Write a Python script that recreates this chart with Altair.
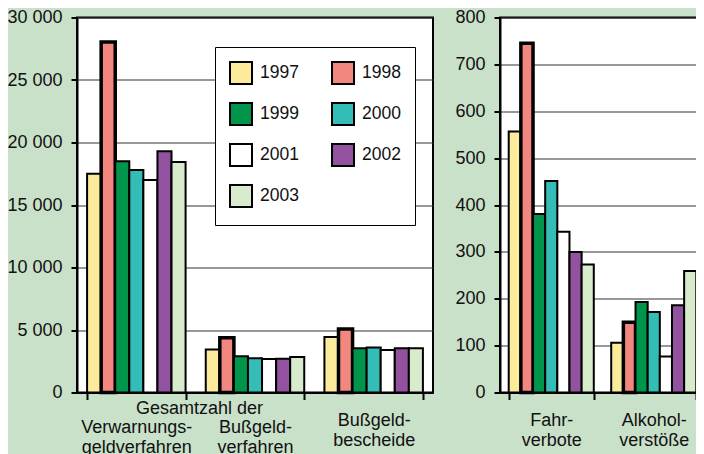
import altair as alt
import pandas as pd

# ---------------- data ----------------
years = ["1997", "1998", "1999", "2000", "2001", "2002", "2003"]
colors = ["#fbeb9b", "#f2877f", "#00954a", "#34bdb6", "#ffffff", "#9352a0", "#d9ebcd"]

left_categories = ["Verwarnungsgeldverfahren", "Bußgeldverfahren", "Bußgeldbescheide"]
left_labels = [["Verwarnungs-", "geldverfahren"], ["Bußgeld-", "verfahren"], ["Bußgeld-", "bescheide"]]
left_header = "Gesamtzahl der"
verwarnungsgeldverfahren = [17500, 28050, 18500, 17800, 17000, 19300, 18450]
bussgeldverfahren = [3450, 4380, 2900, 2750, 2680, 2700, 2850]
bussgeldbescheide = [4450, 5080, 3550, 3600, 3400, 3540, 3550]

right_categories = ["Fahrverbote", "Alkoholverstöße"]
right_labels = [["Fahr-", "verbote"], ["Alkohol-", "verstöße"]]
fahrverbote = [557, 745, 381, 451, 343, 300, 273]
alkoholverstoesse = [106, 150, 193, 172, 77, 186, 259]

left_ticks = [0, 5000, 10000, 15000, 20000, 25000, 30000]
right_ticks = [0, 100, 200, 300, 400, 500, 600, 700, 800]

df_left = pd.DataFrame(
    [{"category": c, "year": y, "value": v}
     for c, vals in zip(left_categories, [verwarnungsgeldverfahren, bussgeldverfahren, bussgeldbescheide])
     for y, v in zip(years, vals)]
)
df_right = pd.DataFrame(
    [{"category": c, "year": y, "value": v}
     for c, vals in zip(right_categories, [fahrverbote, alkoholverstoesse])
     for y, v in zip(years, vals)]
)


def label_expr(cats, labels):
    expr = "datum.label"
    for c, l in reversed(list(zip(cats, labels))):
        arr = "[" + ", ".join("'" + s + "'" for s in l) + "]"
        expr = f"datum.label == '{c}' ? {arr} : ({expr})"
    return expr


FONT = "Liberation Sans"
TXT = "#111111"
LOW = f"datum.value == '{left_categories[0]}' || datum.value == '{left_categories[1]}'"

stroke_w = alt.condition("datum.year == '1998'", alt.value(3.5), alt.value(2))

left = alt.Chart(df_left).mark_bar(stroke="black").encode(
    x=alt.X("category:N", sort=left_categories,
            scale=alt.Scale(paddingInner=0.17, paddingOuter=0.085),
            axis=alt.Axis(labelExpr=label_expr(left_categories, left_labels), labelAngle=0,
                          labelBaseline="top", labelLineHeight=19.5, tickSize=7, tickBand="extent",
                          labelPadding=alt.condition(LOW, alt.value(19), alt.value(12)),
                          grid=False, title=left_header, titleX=122, titleY=21,
                          titleAlign="center", titleBaseline="alphabetic", titleFont=FONT,
                          titleFontSize=18, titleFontWeight="normal", titleColor=TXT)),
    xOffset=alt.XOffset("year:N", sort=years, scale=alt.Scale(paddingInner=0, paddingOuter=0)),
    y=alt.Y("value:Q", scale=alt.Scale(domain=[0, 30000], nice=False),
            axis=alt.Axis(title=None, values=left_ticks,
                          labelExpr="replace(format(datum.value, ','), ',', ' ')")),
    fill=alt.Fill("year:N", sort=years, scale=alt.Scale(domain=years, range=colors),
                  legend=alt.Legend(title=None, orient="none", legendX=138, legendY=29.5, columns=2,
                                    direction="horizontal",
                                    symbolType="square", symbolSize=484, symbolStrokeColor="black",
                                    symbolStrokeWidth=2, labelFont=FONT, labelFontSize=17.5,
                                    labelColor=TXT, labelBaseline="middle", labelOffset=7,
                                    columnPadding=29, rowPadding=11, padding=14,
                                    fillColor="white", strokeColor="black")),
    strokeWidth=stroke_w,
).properties(width=356, height=375)

right = alt.Chart(df_right).mark_bar(stroke="black").encode(
    x=alt.X("category:N", sort=right_categories,
            scale=alt.Scale(paddingInner=0.17, paddingOuter=0.085),
            axis=alt.Axis(labelExpr=label_expr(right_categories, right_labels), labelAngle=0,
                          labelBaseline="top", labelLineHeight=19.5, tickSize=7, tickBand="extent",
                          labelPadding=12, grid=False, title=None)),
    xOffset=alt.XOffset("year:N", sort=years, scale=alt.Scale(paddingInner=0, paddingOuter=0)),
    y=alt.Y("value:Q", scale=alt.Scale(domain=[0, 800], nice=False),
            axis=alt.Axis(title=None, values=right_ticks)),
    fill=alt.Fill("year:N", sort=years, scale=alt.Scale(domain=years, range=colors), legend=None),
    strokeWidth=stroke_w,
).properties(width=205, height=375)

chart = alt.hconcat(left, right, spacing=19).resolve_scale(
    x="independent", y="independent", xOffset="independent", fill="independent"
).resolve_legend(fill="independent").properties(
    autosize=alt.AutoSizeParams(type="none"),
    padding={"left": 69, "top": 9.5, "right": 619, "bottom": 428.5},
    background="#c9e0c9",
).configure_view(
    fill="white", stroke="black", strokeWidth=2
).configure_axis(
    labelFont=FONT, labelFontSize=18, labelColor=TXT,
    domainColor="black", domainWidth=2, tickColor="black", tickWidth=2,
    gridColor="#333333", gridWidth=1,
).configure_axisY(
    tickSize=6, labelPadding=9, grid=True
)

chart.save("out.html", embed_options={"renderer": "svg", "actions": False})
